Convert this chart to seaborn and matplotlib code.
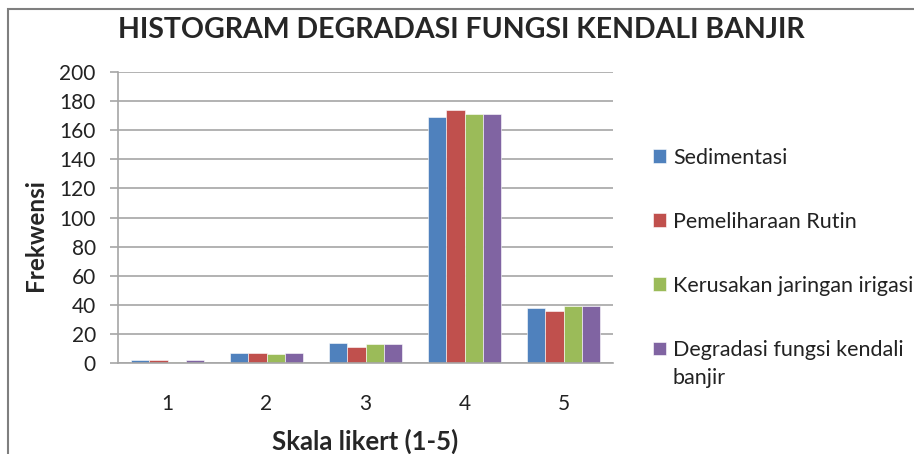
import pandas as pd
import seaborn as sns
import matplotlib.pyplot as plt
from matplotlib.patches import Rectangle

# values
skala = ["1", "2", "3", "4", "5"]
sedimentasi = [2, 7, 14, 169, 38]
pemeliharaan = [2, 7, 11, 174, 36]
kerusakan = [1, 6, 13, 171, 39]
degradasi = [2, 7, 13, 171, 39]

series_names = ["Sedimentasi", "Pemeliharaan Rutin",
                "Kerusakan jaringan irigasi", "Degradasi fungsi kendali"]
colors = ["#4F81BD", "#C0504D", "#9BBB59", "#8064A2"]

rows = []
for name, vals in zip(series_names, [sedimentasi, pemeliharaan, kerusakan, degradasi]):
    for s, v in zip(skala, vals):
        rows.append({"Skala": s, "Seri": name, "Frekwensi": v})
df = pd.DataFrame(rows)

sns.set_style("white")
plt.rcParams["font.family"] = ["Lato", "DejaVu Sans"]

fig = plt.figure(figsize=(9.14, 4.54), dpi=100)
ax = fig.add_axes([118 / 914, 1 - 363 / 454, 495 / 914, 291 / 454])

sns.barplot(data=df, x="Skala", y="Frekwensi", hue="Seri", palette=colors,
            saturation=1, width=0.73, gap=0, edgecolor="white", linewidth=0.4, ax=ax)

ax.set_ylim(0, 200)
ax.set_yticks(range(0, 201, 20))
ax.set_xlim(-0.5, 4.5)
ax.yaxis.grid(True, color="#A6A6A6", linewidth=1.2)
ax.set_axisbelow(True)
for side in ["top", "right"]:
    ax.spines[side].set_visible(False)
for side in ["left", "bottom"]:
    ax.spines[side].set_color("#A6A6A6")
    ax.spines[side].set_linewidth(1.2)
ax.tick_params(axis="y", length=6, color="#A6A6A6", width=1.2, labelsize=15,
               labelcolor="#222222", left=True, pad=10)
ax.tick_params(axis="x", length=0, labelsize=15, labelcolor="#222222", pad=22)

ax.set_xlabel("Skala likert (1-5)", fontsize=18.5, fontweight="bold")
ax.xaxis.set_label_coords(0.5, -0.268)
ax.xaxis.label.set_va("center")
ax.set_ylabel("Frekwensi", fontsize=17.5, fontweight="bold")
ax.yaxis.set_label_coords(-0.167, 0.44)
ax.yaxis.label.set_va("center")

fig.text(461 / 914, 1 - 30 / 454, "HISTOGRAM DEGRADASI FUNGSI KENDALI BANJIR",
         ha="center", va="center", fontsize=20.5, fontweight="bold")

handles, labels = ax.get_legend_handles_labels()
leg = ax.legend(handles, labels, loc="upper left", bbox_to_anchor=(644 / 914, 1 - 139 / 454),
                bbox_transform=fig.transFigure, frameon=False, fontsize=15.5,
                handlelength=0.6, handleheight=0.6, handletextpad=0.35,
                labelspacing=2.05, borderaxespad=0)
fig.text(672 / 914, 1 - 378 / 454, "banjir", ha="left", va="center",
         fontsize=15.5, color="#222222")
for t in leg.get_texts():
    t.set_color("#222222")

# outer chart frame, cut off at the right and bottom like the reference
fig.patches.append(Rectangle((8 / 914, -0.1), 1.0, 1.1 - 9 / 454,
                             transform=fig.transFigure, fill=False,
                             edgecolor="#7F7F7F", linewidth=1.5))

fig.savefig("out.png", dpi=100)
